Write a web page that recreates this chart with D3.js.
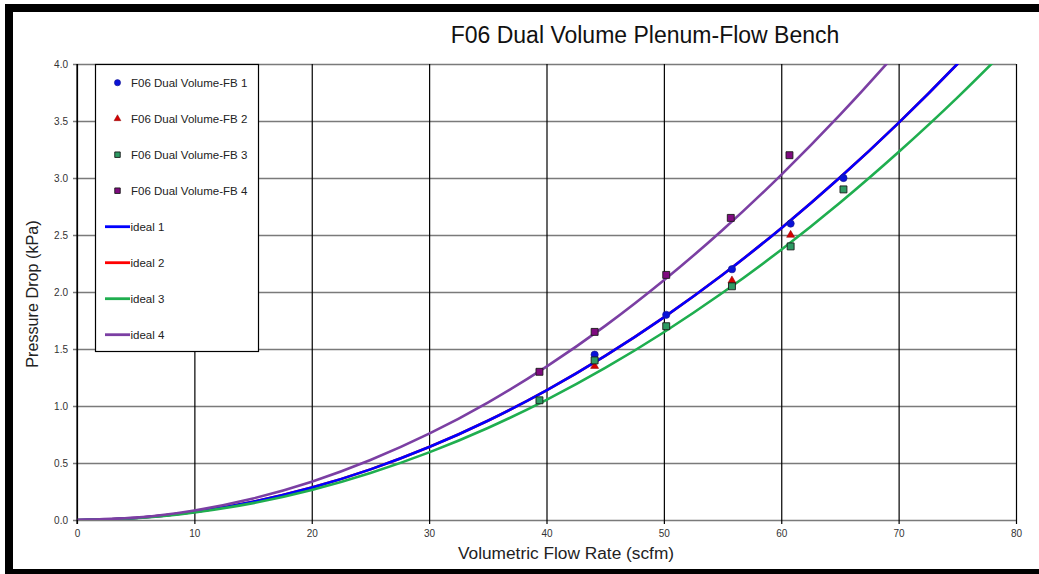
<!DOCTYPE html>
<html>
<head>
<meta charset="utf-8">
<script src="https://cdn.jsdelivr.net/npm/d3@7"></script>
<style>
  html, body { margin: 0; padding: 0; background: #fff; }
  svg { display: block; font-family: "Liberation Sans", Arial, sans-serif; }
</style>
</head>
<body>
<svg id="chart" width="1039" height="574"></svg>
<script>
// Measured flow bench runs: flow (scfm) and pressure drop (kPa)
const fb1Flow = [44.1, 50.2, 55.8, 60.8, 65.3];
const fb1Drop = [1.45, 1.80, 2.20, 2.60, 3.00];
const fb2Flow = [44.1, 55.8, 60.8];
const fb2Drop = [1.35, 2.10, 2.50];
const fb3Flow = [39.4, 44.1, 50.2, 55.8, 60.8, 65.3];
const fb3Drop = [1.05, 1.40, 1.70, 2.05, 2.40, 2.90];
const fb4Flow = [39.4, 44.1, 50.2, 55.7, 60.7];
const fb4Drop = [1.30, 1.65, 2.15, 2.65, 3.20];

// Ideal pressure-drop curves sampled along the flow axis
const idealFlow = [0, 5, 10, 15, 20, 25, 30, 35, 40, 45, 50, 55, 60, 65, 70, 75, 80];
const ideal1 = [0, 0.018, 0.071, 0.160, 0.284, 0.444, 0.640, 0.871, 1.138, 1.440, 1.778, 2.151, 2.560, 3.004, 3.484, 4.000, 4.550];
const ideal2 = [0, 0.018, 0.071, 0.160, 0.284, 0.444, 0.640, 0.871, 1.138, 1.440, 1.778, 2.151, 2.560, 3.004, 3.484, 4.000, 4.550];
const ideal3 = [0, 0.016, 0.066, 0.148, 0.263, 0.412, 0.593, 0.807, 1.054, 1.334, 1.647, 1.993, 2.371, 2.783, 3.228, 3.705, 4.216];
const ideal4 = [0, 0.021, 0.084, 0.189, 0.336, 0.526, 0.757, 1.030, 1.346, 1.703, 2.103, 2.544, 3.028, 3.553, 4.121, 4.730, 5.382];

const xTicks = [0, 10, 20, 30, 40, 50, 60, 70, 80];
const yTicks = [0.0, 0.5, 1.0, 1.5, 2.0, 2.5, 3.0, 3.5, 4.0];

const title = "F06 Dual Volume Plenum-Flow Bench";
const xTitle = "Volumetric Flow Rate (scfm)";
const yTitle = "Pressure Drop (kPa)";

const svg = d3.select("#chart");
const plot = { left: 77, right: 1016, top: 64, bottom: 520 };

const x = d3.scaleLinear().domain([0, 80]).range([plot.left, plot.right]);
const y = d3.scaleLinear().domain([0, 4]).range([plot.bottom, plot.top]);

// Outer frame (top, left and bottom black bars)
svg.append("rect").attr("x", 5).attr("y", 4).attr("width", 1034).attr("height", 8).attr("fill", "#000");
svg.append("rect").attr("x", 5).attr("y", 4).attr("width", 8).attr("height", 570).attr("fill", "#000");
svg.append("rect").attr("x", 5).attr("y", 569).attr("width", 1034).attr("height", 5).attr("fill", "#000");

// Title
svg.append("text")
  .attr("x", 645).attr("y", 43)
  .attr("text-anchor", "middle")
  .attr("font-size", 23)
  .attr("fill", "#111")
  .text(title);

// Horizontal grid lines (grey) extending past the axis as tick marks
const gy = svg.append("g").attr("transform", `translate(${plot.right},0)`);
gy.call(d3.axisLeft(y).tickValues(yTicks).tickFormat("").tickSize(plot.right - plot.left + 4).tickSizeOuter(0));
gy.select(".domain").remove();
gy.selectAll(".tick line").attr("stroke", "#7a7a7a").attr("stroke-width", 1.6);

const gyl = svg.append("g").attr("transform", `translate(${plot.left},0)`);
gyl.call(d3.axisLeft(y).tickValues(yTicks).tickFormat(d3.format(".1f")).tickSize(0).tickPadding(9));
gyl.select(".domain").remove();
gyl.selectAll(".tick text").attr("font-size", 10).attr("fill", "#333")
  .attr("font-family", "'Liberation Sans', Arial, sans-serif");

// Vertical grid lines (black) extending below the axis as tick marks
const gx = svg.append("g").attr("transform", `translate(0,${plot.top})`);
gx.call(d3.axisBottom(x).tickValues(xTicks).tickFormat("").tickSize(plot.bottom - plot.top + 4).tickSizeOuter(0));
gx.select(".domain").remove();
gx.selectAll(".tick line").attr("stroke", "#000").attr("stroke-width", 1.2);

const gxl = svg.append("g").attr("transform", `translate(0,${plot.bottom})`);
gxl.call(d3.axisBottom(x).tickValues(xTicks).tickFormat(d3.format("d")).tickSize(0).tickPadding(10));
gxl.select(".domain").remove();
gxl.selectAll(".tick text").attr("font-size", 10).attr("fill", "#333")
  .attr("font-family", "'Liberation Sans', Arial, sans-serif");

// Axis titles
svg.append("text")
  .attr("x", 566).attr("y", 559)
  .attr("text-anchor", "middle")
  .attr("font-size", 17.3).attr("fill", "#222")
  .text(xTitle);
svg.append("text")
  .attr("transform", "translate(38,294) rotate(-90)")
  .attr("text-anchor", "middle")
  .attr("font-size", 16.2).attr("fill", "#222")
  .text(yTitle);

// Clip region for the curves
svg.append("clipPath").attr("id", "plotClip")
  .append("rect")
  .attr("x", plot.left).attr("y", plot.top)
  .attr("width", plot.right - plot.left).attr("height", plot.bottom - plot.top);

const line = d3.line().x(d => x(d[0])).y(d => y(d[1])).curve(d3.curveNatural);

const curves = [
  { name: "ideal 2", vals: ideal2, color: "#ff0000" },
  { name: "ideal 1", vals: ideal1, color: "#0000ff" },
  { name: "ideal 3", vals: ideal3, color: "#1fae4f" },
  { name: "ideal 4", vals: ideal4, color: "#7b3fa3" }
];
const curveG = svg.append("g").attr("clip-path", "url(#plotClip)");
curves.forEach(c => {
  curveG.append("path")
    .datum(idealFlow.map((f, i) => [f, c.vals[i]]))
    .attr("fill", "none")
    .attr("stroke", c.color)
    .attr("stroke-width", 2.6)
    .attr("d", line);
});

// Markers
const sym = (type, size) => d3.symbol().type(type).size(size);
const seriesPts = [
  { flow: fb1Flow, drop: fb1Drop, type: d3.symbolCircle, size: 42, fill: "#0a12d8", stroke: "#1a1a8a", sw: 0.6 },
  { flow: fb2Flow, drop: fb2Drop, type: d3.symbolTriangle, size: 28, fill: "#d40000", stroke: "#8a0000", sw: 0.5 },
  { flow: fb3Flow, drop: fb3Drop, type: d3.symbolSquare, size: 48, fill: "#2e9a63", stroke: "#1b1b1b", sw: 0.9 },
  { flow: fb4Flow, drop: fb4Drop, type: d3.symbolSquare, size: 48, fill: "#7f0a7f", stroke: "#1b1b1b", sw: 0.9 }
];
seriesPts.forEach(s => {
  svg.append("g").selectAll("path")
    .data(s.flow.map((f, i) => [f, s.drop[i]]))
    .join("path")
    .attr("transform", d => `translate(${x(d[0])},${y(d[1])})`)
    .attr("d", sym(s.type, s.size)())
    .attr("fill", s.fill)
    .attr("stroke", s.stroke)
    .attr("stroke-width", s.sw);
});

// Left axis line
svg.append("line").attr("x1", plot.left).attr("x2", plot.left)
  .attr("y1", plot.top).attr("y2", plot.bottom + 4)
  .attr("stroke", "#000").attr("stroke-width", 1.2);

// Legend
const legend = svg.append("g");
legend.append("rect")
  .attr("x", 95.5).attr("y", 64.5).attr("width", 163).attr("height", 287)
  .attr("fill", "#fff").attr("stroke", "#000").attr("stroke-width", 1.2);

const legendRows = [
  { label: "F06 Dual Volume-FB 1", kind: "pt", s: seriesPts[0] },
  { label: "F06 Dual Volume-FB 2", kind: "pt", s: seriesPts[1] },
  { label: "F06 Dual Volume-FB 3", kind: "pt", s: seriesPts[2] },
  { label: "F06 Dual Volume-FB 4", kind: "pt", s: seriesPts[3] },
  { label: "ideal 1", kind: "ln", color: "#0000ff" },
  { label: "ideal 2", kind: "ln", color: "#ff0000" },
  { label: "ideal 3", kind: "ln", color: "#1fae4f" },
  { label: "ideal 4", kind: "ln", color: "#7b3fa3" }
];
legendRows.forEach((r, i) => {
  const cy = 82.7 + i * 36;
  if (r.kind === "pt") {
    legend.append("path")
      .attr("transform", `translate(117.5,${cy})`)
      .attr("d", sym(r.s.type, r.s.type === d3.symbolTriangle ? 20 : 30)())
      .attr("fill", r.s.fill).attr("stroke", r.s.stroke).attr("stroke-width", r.s.sw);
  } else {
    legend.append("line")
      .attr("x1", 105).attr("x2", 130).attr("y1", cy).attr("y2", cy)
      .attr("stroke", r.color).attr("stroke-width", 2.8);
  }
  legend.append("text")
    .attr("x", r.kind === "pt" ? 131 : 130.5).attr("y", cy + 4)
    .attr("font-size", 11.5).attr("fill", "#222")
    .text(r.label);
});
</script>
</body>
</html>
